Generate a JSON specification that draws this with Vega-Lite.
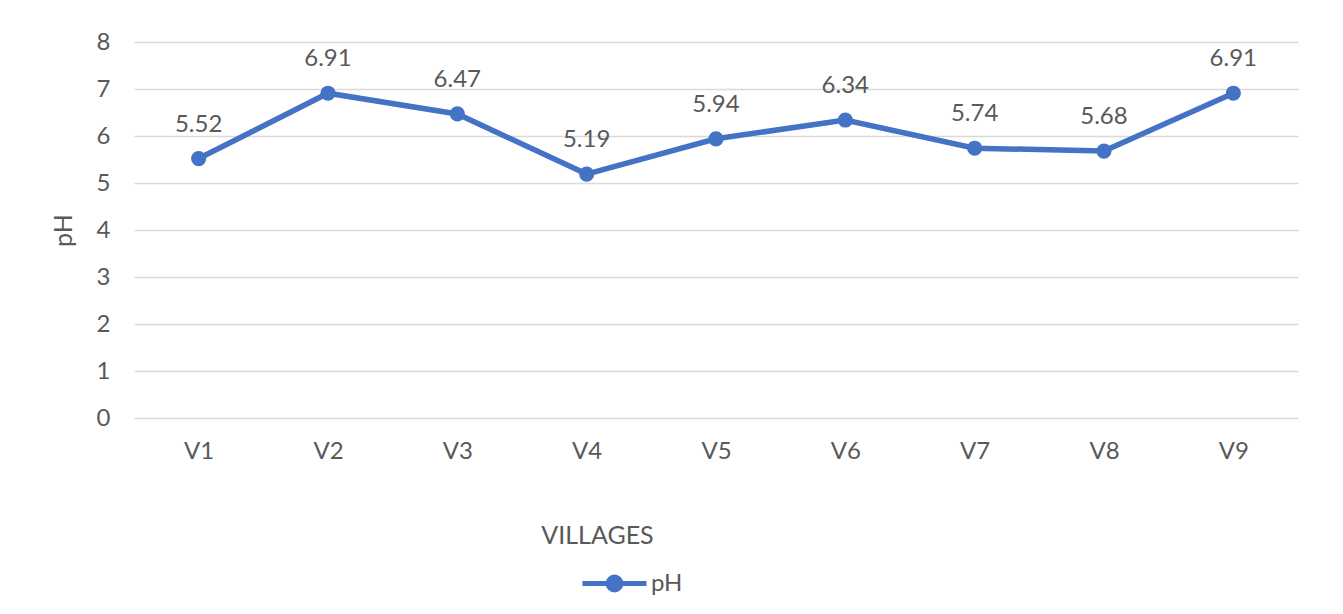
{
  "$schema": "https://vega.github.io/schema/vega-lite/v6.json",
  "autosize": "none",
  "width": 1164,
  "height": 376,
  "padding": {"left": 134, "top": 42, "right": 45, "bottom": 196},
  "background": "white",
  "config": {
    "view": {"stroke": null},
    "font": "Lato",
    "axis": {"labelFont": "Lato", "titleFont": "Lato", "labelColor": "#595959", "titleColor": "#595959", "titleFontWeight": "normal"}
  },
  "data": {
    "values": [
      {"village": "V1", "pH": 5.52},
      {"village": "V2", "pH": 6.91},
      {"village": "V3", "pH": 6.47},
      {"village": "V4", "pH": 5.19},
      {"village": "V5", "pH": 5.94},
      {"village": "V6", "pH": 6.34},
      {"village": "V7", "pH": 5.74},
      {"village": "V8", "pH": 5.68},
      {"village": "V9", "pH": 6.91}
    ]
  },
  "encoding": {
    "x": {
      "field": "village", "type": "nominal", "sort": null,
      "scale": {"paddingInner": 0, "paddingOuter": 0},
      "axis": {
        "title": "VILLAGES", "labelAngle": 0, "domain": false, "ticks": false,
        "labelFontSize": 24, "labelPadding": 21, "titleFontSize": 25,
        "titleX": 463, "titleY": 117, "titleBaseline": "middle", "titleAlign": "center", "titleAnchor": null
      }
    },
    "y": {
      "field": "pH", "type": "quantitative",
      "scale": {"domain": [0, 8]},
      "axis": {
        "title": "pH", "values": [0,1,2,3,4,5,6,7,8], "domain": false, "ticks": false,
        "gridColor": "#d9d9d9", "gridWidth": 1.5,
        "labelFontSize": 24, "labelPadding": 24, "titleFontSize": 25, "titlePadding": 20
      }
    }
  },
  "layer": [
    {
      "mark": {"type": "line", "strokeWidth": 5.5, "point": {"filled": true, "size": 230}},
      "encoding": {
        "color": {
          "datum": "pH",
          "scale": {"range": ["#4472C4"]},
          "legend": {
            "title": null, "orient": "none", "legendX": 446, "legendY": 507,
            "symbolType": "M-1,0L1,0M-0.2,0A0.2,0.2 0 1,0 0.2,0A0.2,0.2 0 1,0 -0.2,0Z",
            "symbolSize": 4096, "symbolStrokeWidth": 5, "symbolFillColor": "#4472C4", "symbolStrokeColor": "#4472C4",
            "labelFontSize": 24, "labelColor": "#595959", "labelOffset": 2, "labelFont": "Lato"
          }
        }
      }
    },
    {
      "mark": {"type": "text", "dy": -34, "fontSize": 24, "color": "#595959", "font": "Lato"},
      "encoding": {"text": {"field": "pH", "type": "quantitative", "format": ".2f"}}
    }
  ]
}
